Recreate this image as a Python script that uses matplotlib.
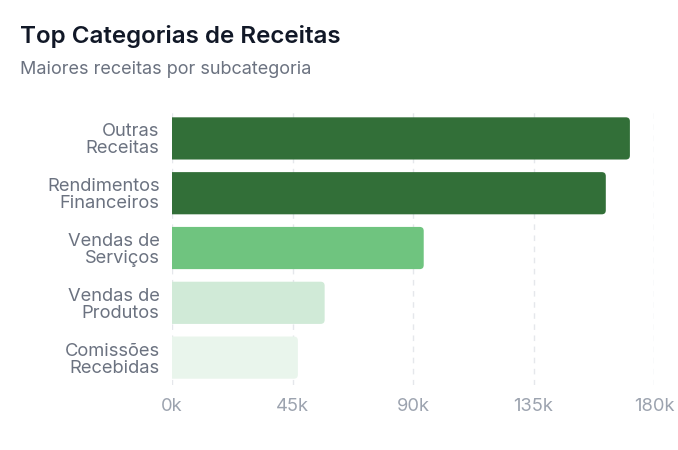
import matplotlib.pyplot as plt
from matplotlib.patches import FancyBboxPatch
from matplotlib.ticker import FuncFormatter

plt.rcParams['font.family'] = ['Inter', 'DejaVu Sans']

# dados
categorias = ["Outras\nReceitas", "Rendimentos\nFinanceiros", "Vendas de\nServiços",
              "Vendas de\nProdutos", "Comissões\nRecebidas"]
valores = [171000, 162000, 94000, 57000, 47000]
cores = ["#326f38", "#326f38", "#6fc47f", "#d0ead7", "#e9f5ec"]
ticks = [0, 45000, 90000, 135000, 180000]

fig = plt.figure(figsize=(6.78, 4.5), dpi=100)
ax = fig.add_axes([0.2537, 0.1444, 0.7109, 0.6089])

y = list(range(len(categorias)))
altura = 0.77
bars = ax.barh(y, valores, height=altura, color="none")

# barras com cantos arredondados (so a direita fica visivel)
px_x = 0.7109 * 678 / 180000
px_y = 0.6089 * 450 / 5
raio = 4 / px_x
for b, cor in zip(bars, cores):
    p = FancyBboxPatch((-3 * raio, b.get_y()), b.get_width() + 3 * raio, b.get_height(),
                       boxstyle=f"round,pad=0,rounding_size={raio}",
                       mutation_aspect=px_x / px_y, facecolor=cor, edgecolor="none",
                       zorder=2)
    ax.add_patch(p)

ax.set_xlim(0, 180000)
ax.set_ylim(len(categorias) - 0.5, -0.5)
ax.set_xticks(ticks)
ax.xaxis.set_major_formatter(FuncFormatter(lambda v, pos: f"{int(v / 1000)}k"))
ax.set_yticks(y)
ax.set_yticklabels(categorias, ha="right", linespacing=1.0)
ax.tick_params(axis="y", length=0, pad=9, labelsize=13.2, labelcolor="#6b7280")
ax.tick_params(axis="x", length=0, pad=9, labelsize=13.2, labelcolor="#9ca3af")
ax.grid(axis="x", color="#e5e7eb", linestyle=(0, (4, 4)), linewidth=1, zorder=0)
ax.set_axisbelow(True)
for s in ax.spines.values():
    s.set_visible(False)

fig.text(20 / 678, 1 - 43 / 450, "Top Categorias de Receitas", fontsize=17.4,
         fontweight="semibold", color="#111827", va="baseline")
fig.text(20 / 678, 1 - 74 / 450, "Maiores receitas por subcategoria", fontsize=13,
         color="#6b7280", va="baseline")

fig.savefig("out.png", dpi=100)
